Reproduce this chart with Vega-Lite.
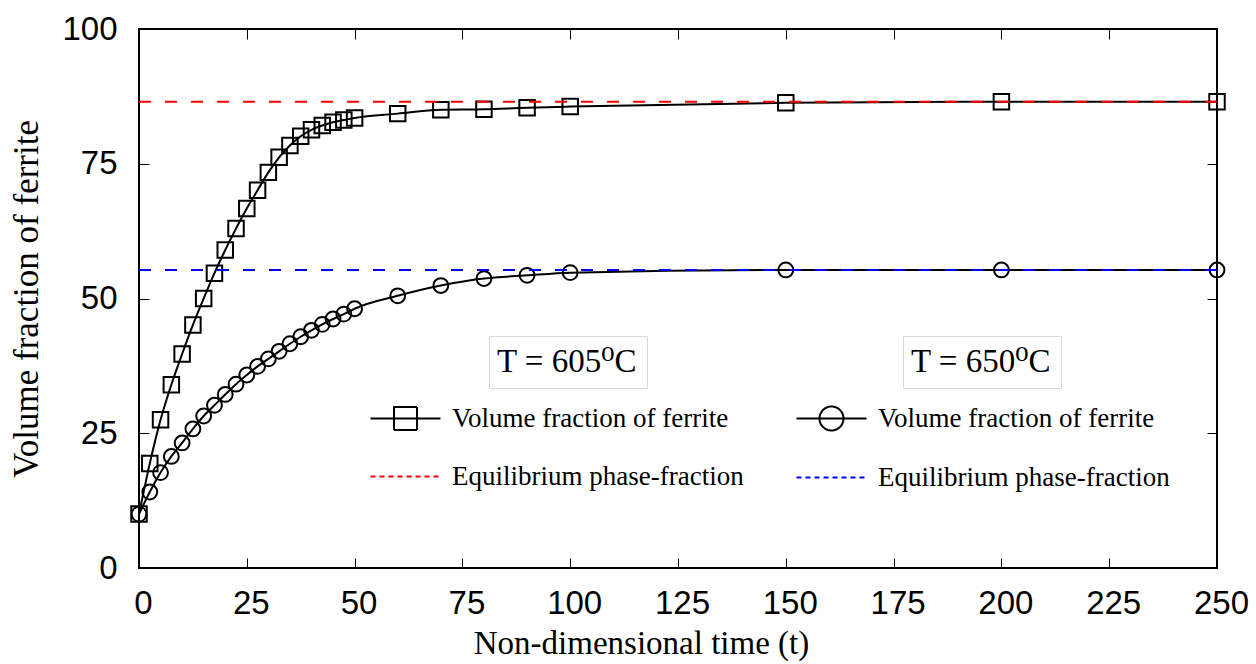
{
  "$schema": "https://vega.github.io/schema/vega-lite/v6.json",
  "width": 1078,
  "height": 539,
  "autosize": {"type": "none"},
  "padding": {"left": 139, "top": 29, "right": 39, "bottom": 96},
  "background": "white",
  "config": {"view": {"stroke": "black", "strokeWidth": 2}},
  "datasets": {
    "d605": [
      {"t": 0, "v": 10}, {"t": 2.5, "v": 19.4}, {"t": 5, "v": 27.5}, {"t": 7.5, "v": 34.0},
      {"t": 10, "v": 39.7}, {"t": 12.5, "v": 45.1}, {"t": 15, "v": 50.0}, {"t": 17.5, "v": 54.7},
      {"t": 20, "v": 59.0}, {"t": 22.5, "v": 63.0}, {"t": 25, "v": 66.7}, {"t": 27.5, "v": 70.1},
      {"t": 30, "v": 73.4}, {"t": 32.5, "v": 76.2}, {"t": 35, "v": 78.4}, {"t": 37.5, "v": 80.1},
      {"t": 40, "v": 81.3}, {"t": 42.5, "v": 82.1}, {"t": 45, "v": 82.7}, {"t": 47.5, "v": 83.1},
      {"t": 50, "v": 83.5}, {"t": 60, "v": 84.3}, {"t": 70, "v": 85.0}, {"t": 80, "v": 85.1},
      {"t": 90, "v": 85.4}, {"t": 100, "v": 85.6}, {"t": 150, "v": 86.3}, {"t": 200, "v": 86.5},
      {"t": 250, "v": 86.5}
    ],
    "d650": [
      {"t": 0, "v": 10}, {"t": 2.5, "v": 14.1}, {"t": 5, "v": 17.7}, {"t": 7.5, "v": 20.7},
      {"t": 10, "v": 23.2}, {"t": 12.5, "v": 25.8}, {"t": 15, "v": 28.2}, {"t": 17.5, "v": 30.2},
      {"t": 20, "v": 32.2}, {"t": 22.5, "v": 34.1}, {"t": 25, "v": 35.8}, {"t": 27.5, "v": 37.4},
      {"t": 30, "v": 38.8}, {"t": 32.5, "v": 40.2}, {"t": 35, "v": 41.6}, {"t": 37.5, "v": 42.9},
      {"t": 40, "v": 44.1}, {"t": 42.5, "v": 45.2}, {"t": 45, "v": 46.2}, {"t": 47.5, "v": 47.1},
      {"t": 50, "v": 48.1}, {"t": 60, "v": 50.5}, {"t": 70, "v": 52.4}, {"t": 80, "v": 53.7},
      {"t": 90, "v": 54.3}, {"t": 100, "v": 54.8}, {"t": 150, "v": 55.3}, {"t": 200, "v": 55.3},
      {"t": 250, "v": 55.3}
    ]
  },
  "layer": [
    {
      "data": {"name": "d605"},
      "layer": [
        {
          "mark": {"type": "line", "interpolate": "monotone", "strokeWidth": 2},
          "encoding": {
            "x": {"field": "t", "type": "quantitative", "scale": {"domain": [0, 250], "nice": false}, "axis": null},
            "y": {"field": "v", "type": "quantitative", "scale": {"domain": [0, 100], "nice": false}, "axis": null},
            "color": {"datum": "Volume fraction of ferrite", "type": "nominal",
              "scale": {"domain": ["Volume fraction of ferrite", "Equilibrium phase-fraction"], "range": ["black", "red"]},
              "legend": {"title": null, "orient": "none", "legendX": 228, "legendY": 376, "direction": "vertical", "padding": 0,
                "symbolSize": 400, "symbolStrokeWidth": 2, "labelFont": "Liberation Serif", "labelFontSize": 27, "labelColor": "black",
                "labelOffset": 58, "labelLimit": 600, "rowPadding": 28,
                "encode": {"symbols": {"update": {
                  "shape": {"signal": "datum.value === 'Equilibrium phase-fraction' ? 'M-1,0H6' : 'M-1,0H6M1.35,-1.15H3.65V1.15H1.35Z'"},
                  "strokeDash": {"signal": "datum.value === 'Equilibrium phase-fraction' ? [5,4] : [1,0]"},
                  "fill": {"value": "transparent"},
                  "strokeWidth": {"value": 2}}}}}}
          }
        },
        {
          "mark": {"type": "point", "filled": false, "stroke": "black", "strokeWidth": 2, "size": 240, "opacity": 1},
          "encoding": {
            "x": {"field": "t", "type": "quantitative", "axis": null},
            "y": {"field": "v", "type": "quantitative", "axis": null},
            "shape": {"datum": "T = 605⁰C", "type": "nominal", "scale": {"domain": ["T = 605⁰C"], "range": ["square"]},
              "legend": {"title": null, "orient": "none", "legendX": 350, "legendY": 307, "padding": 9, "strokeColor": "#d9d9d9",
                "symbolSize": 0, "symbolOpacity": 0, "symbolStrokeWidth": 0, "labelOffset": -34,
                "labelFont": "'Liberation Serif', 'DejaVu Serif', serif", "labelFontSize": 33, "labelColor": "black", "labelLimit": 600,
                "encode": {"symbols": {"update": {"opacity": {"value": 0}, "size": {"value": 0}}}}}}
          }
        },
        {
          "data": {"values": [{"v": 86.5}]},
          "mark": {"type": "rule", "stroke": "red", "strokeWidth": 2, "strokeDash": [12, 14]},
          "encoding": {"y": {"field": "v", "type": "quantitative", "axis": null}}
        }
      ]
    },
    {
      "data": {"name": "d650"},
      "layer": [
        {
          "mark": {"type": "line", "interpolate": "monotone", "strokeWidth": 2},
          "encoding": {
            "x": {"field": "t", "type": "quantitative", "axis": null},
            "y": {"field": "v", "type": "quantitative", "axis": null},
            "color": {"datum": "Volume fraction of ferrite", "type": "nominal",
              "scale": {"domain": ["Volume fraction of ferrite", "Equilibrium phase-fraction"], "range": ["black", "blue"]},
              "legend": {"title": null, "orient": "none", "legendX": 654, "legendY": 376, "direction": "vertical", "padding": 0,
                "symbolSize": 400, "symbolStrokeWidth": 2, "labelFont": "Liberation Serif", "labelFontSize": 27, "labelColor": "black",
                "labelOffset": 58, "labelLimit": 600, "rowPadding": 28,
                "encode": {"symbols": {"update": {
                  "shape": {"signal": "datum.value === 'Equilibrium phase-fraction' ? 'M-1,0H6' : 'M-1,0H6M1.3,0A1.2,1.2,0,1,1,3.7,0A1.2,1.2,0,1,1,1.3,0Z'"},
                  "strokeDash": {"signal": "datum.value === 'Equilibrium phase-fraction' ? [5,4] : [1,0]"},
                  "fill": {"value": "transparent"},
                  "strokeWidth": {"value": 2}}}}}}
          }
        },
        {
          "mark": {"type": "point", "filled": false, "stroke": "black", "strokeWidth": 2, "size": 220, "opacity": 1},
          "encoding": {
            "x": {"field": "t", "type": "quantitative", "axis": null},
            "y": {"field": "v", "type": "quantitative", "axis": null},
            "shape": {"datum": "T = 650⁰C", "type": "nominal", "scale": {"domain": ["T = 650⁰C"], "range": ["circle"]},
              "legend": {"title": null, "orient": "none", "legendX": 764, "legendY": 307, "padding": 9, "strokeColor": "#d9d9d9",
                "symbolSize": 0, "symbolOpacity": 0, "symbolStrokeWidth": 0, "labelOffset": -34,
                "labelFont": "'Liberation Serif', 'DejaVu Serif', serif", "labelFontSize": 33, "labelColor": "black", "labelLimit": 600,
                "encode": {"symbols": {"update": {"opacity": {"value": 0}, "size": {"value": 0}}}}}}
          }
        },
        {
          "data": {"values": [{"v": 55.3}]},
          "mark": {"type": "rule", "stroke": "blue", "strokeWidth": 2, "strokeDash": [12, 14]},
          "encoding": {"y": {"field": "v", "type": "quantitative", "axis": null}}
        }
      ]
    },
    {
      "data": {"name": "d605"},
      "mark": {"type": "point", "size": 0, "opacity": 0},
      "encoding": {
        "x": {"field": "t", "type": "quantitative",
          "axis": {"orient": "bottom", "values": [0, 25, 50, 75, 100, 125, 150, 175, 200, 225, 250], "title": "Non-dimensional time (t)",
            "domain": false, "grid": false, "tickSize": -10, "tickColor": "black", "tickWidth": 1,
            "labelPadding": 29.5, "labelFont": "Liberation Sans", "labelFontSize": 33, "labelColor": "black",
            "labelOffset": 4, "labelFlush": false, "labelOverlap": false,
            "titleFont": "Liberation Serif", "titleFontSize": 33, "titleFontWeight": "normal", "titleColor": "black", "titlePadding": 7,
            "titleX": 502, "titleAlign": "center"}},
        "y": {"field": "v", "type": "quantitative",
          "axis": {"orient": "left", "values": [0, 25, 50, 75, 100], "title": "Volume fraction of ferrite",
            "domain": false, "grid": false, "tickSize": -10, "tickColor": "black", "tickWidth": 1,
            "labelPadding": 32, "labelFont": "Liberation Sans", "labelFontSize": 33, "labelColor": "black",
            "labelFlush": false, "labelOverlap": false,
            "titleFont": "Liberation Serif", "titleFontSize": 35, "titleFontWeight": "normal", "titleColor": "black", "titlePadding": 17}}
      }
    },
    {
      "data": {"name": "d605"},
      "mark": {"type": "point", "size": 0, "opacity": 0},
      "encoding": {
        "x": {"field": "t", "type": "quantitative",
          "axis": {"orient": "top", "values": [0, 25, 50, 75, 100, 125, 150, 175, 200, 225, 250], "labels": false, "title": null,
            "domain": false, "grid": false, "tickSize": -10, "tickColor": "black", "tickWidth": 1}},
        "y": {"field": "v", "type": "quantitative",
          "axis": {"orient": "right", "values": [0, 25, 50, 75, 100], "labels": false, "title": null,
            "domain": false, "grid": false, "tickSize": -10, "tickColor": "black", "tickWidth": 1}}
      }
    }
  ],
  "resolve": {
    "scale": {"color": "independent", "shape": "independent"},
    "axis": {"x": "independent", "y": "independent"}
  }
}
